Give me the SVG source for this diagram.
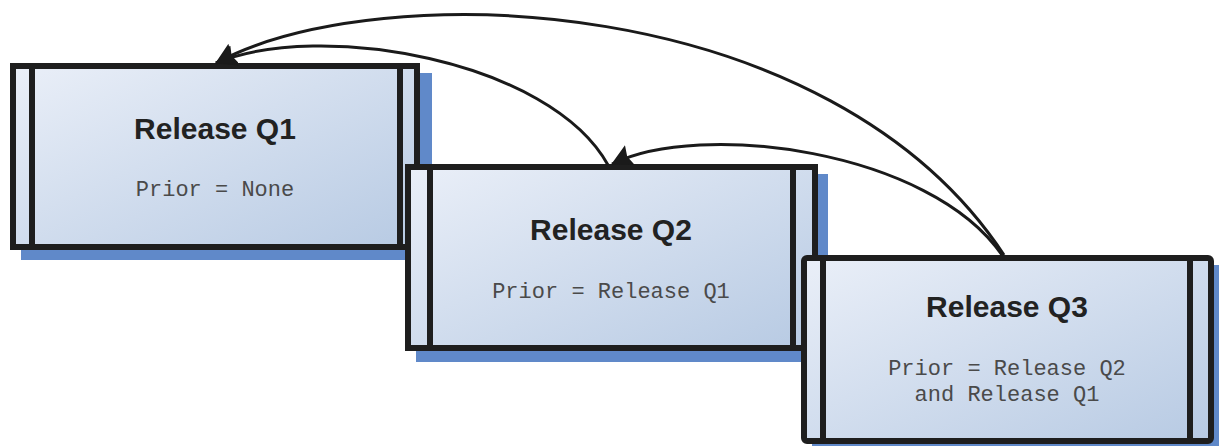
<svg xmlns="http://www.w3.org/2000/svg" width="1219" height="446" viewBox="0 0 1219 446">
  <style>
    .shadow { fill: #6089c9; }
    .frame { fill: url(#boxFill); stroke: #1e1e1e; stroke-width: 6; }
    .bar { stroke: #1e1e1e; stroke-width: 6; }
    .title { font-family: "Liberation Sans", Arial, sans-serif; font-weight: bold; font-size: 30px; fill: #222; text-anchor: middle; }
    .note { font-family: "Liberation Mono", "Courier New", monospace; font-size: 22px; fill: #4a4a4a; text-anchor: middle; }
    .link { fill: none; stroke: #1a1a1a; stroke-width: 3; marker-end: url(#head); }
  </style>
  <defs>
    <linearGradient id="boxFill" x1="0" y1="0" x2="1" y2="1">
      <stop offset="0" stop-color="#eaeff8"/>
      <stop offset="1" stop-color="#b7cae3"/>
    </linearGradient>
    <marker id="head" markerUnits="userSpaceOnUse" markerWidth="24" markerHeight="24" refX="20" refY="11" orient="auto">
      <path d="M0,0 L21,11 L0,22 L3,11 z" fill="#1a1a1a"/>
    </marker>
  </defs>

  <g id="release-q1">
    <rect class="shadow" x="21" y="73" width="411" height="187"/>
    <rect class="frame" x="13" y="66" width="404" height="181"/>
    <line class="bar" x1="32" y1="66" x2="32" y2="247"/>
    <line class="bar" x1="400" y1="66" x2="400" y2="247"/>
    <text class="title" x="215" y="139">Release Q1</text>
    <text class="note" x="215" y="196">Prior = None</text>
  </g>

  <g id="release-q2">
    <rect class="shadow" x="416" y="174" width="412" height="188"/>
    <rect class="frame" x="408" y="167" width="407" height="181"/>
    <line class="bar" x1="430" y1="167" x2="430" y2="348"/>
    <line class="bar" x1="793" y1="167" x2="793" y2="348"/>
    <text class="title" x="611" y="240">Release Q2</text>
    <text class="note" x="611" y="298">Prior = Release Q1</text>
  </g>

  <g id="release-q3">
    <rect class="shadow" x="812" y="265" width="412" height="186"/>
    <rect class="frame" x="804" y="258" width="407" height="183" rx="3"/>
    <line class="bar" x1="823" y1="258" x2="823" y2="441"/>
    <line class="bar" x1="1190" y1="258" x2="1190" y2="441"/>
    <text class="title" x="1007" y="317">Release Q3</text>
    <text class="note" x="1007" y="375">Prior = Release Q2</text>
    <text class="note" x="1007" y="401">and Release Q1</text>
  </g>

  <g id="connectors">
    <path class="link" d="M608,165 C550,60 320,20 216,63"/>
    <path class="link" d="M1004,255 C830,-10 380,-25 216,63"/>
    <path class="link" d="M1002,255 C930,150 700,120 612,164"/>
  </g>
</svg>
